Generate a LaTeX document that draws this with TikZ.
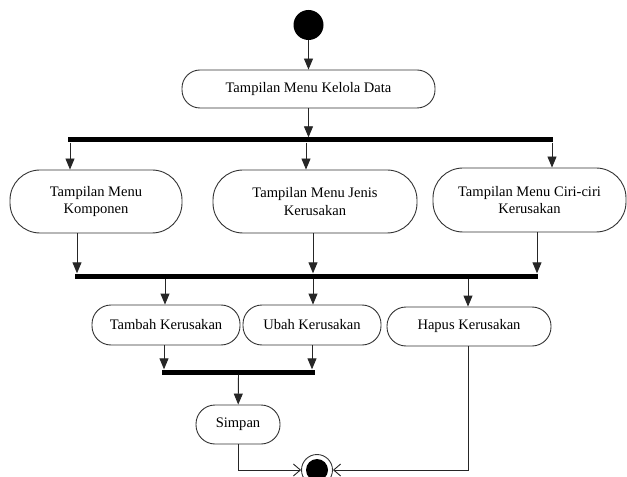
\documentclass[tikz,border=0pt]{standalone}
\usepackage{fontspec}
\setmainfont{Liberation Serif}
\usetikzlibrary{arrows.meta,calc}

\tikzset{
  act/.style={draw=black!80, line width=0.9bp, fill=white, align=center,
    inner sep=0pt, font=\fontsize{14.6}{18}\selectfont},
  bar/.style={fill=black, draw=none, inner sep=0pt, minimum height=5bp},
  flow/.style={draw=black!85, line width=0.9bp,
    -{Triangle[length=11bp,width=9bp]}},
  flowend/.style={draw=black!85, line width=0.9bp,
    -{Straight Barb[length=7bp,width=12bp,line width=0.9bp]}},
}

\begin{document}
\begin{tikzpicture}[x=1bp,y=-1bp]
  \useasboundingbox (0,0) rectangle (627,477);
  \clip (0,0) rectangle (627,477);
  \fill[white] (0,0) rectangle (627,477);

  % initial and final states
  \node[circle, fill=black, minimum size=30bp, inner sep=0pt] (start) at (308.5,25) {};
  \node[circle, draw=black!80, line width=0.9bp, minimum size=31bp, inner sep=0pt] (finish) at (317,470) {};
  \fill[black] (finish.center) circle (11bp);

  % actions
  \node[act, minimum width=253bp, minimum height=38bp, rounded corners=18bp] (kelola) at (308.5,89) {Tampilan Menu Kelola Data};
  \node[act, minimum width=172bp, minimum height=63bp, rounded corners=30bp] (komp) at (96,201.5) {Tampilan Menu\\Komponen};
  \node[act, minimum width=204bp, minimum height=63bp, rounded corners=30bp] (jenis) at (315,201.5) {Tampilan Menu Jenis\\Kerusakan};
  \node[act, minimum width=193bp, minimum height=64bp, rounded corners=30bp] (ciri) at (529.5,200) {Tampilan Menu Ciri-ciri\\Kerusakan};
  \node[act, minimum width=148bp, minimum height=40bp, rounded corners=19bp] (tambah) at (166,325) {Tambah Kerusakan};
  \node[act, minimum width=138bp, minimum height=40bp, rounded corners=19bp] (ubah) at (312,325) {Ubah Kerusakan};
  \node[act, minimum width=164bp, minimum height=39bp, rounded corners=19bp] (hapus) at (469,326.5) {Hapus Kerusakan};
  \node[act, minimum width=84bp, minimum height=39bp, rounded corners=19bp] (simpan) at (238,424.5) {Simpan};

  % fork / join bars
  \node[bar, minimum width=485bp] (bar1) at (310.5,140) {};
  \node[bar, minimum width=463bp] (bar2) at (306.5,276) {};
  \node[bar, minimum width=153bp] (bar3) at (238.5,372) {};

  % columns of the vertical connectors
  \coordinate (xa) at (70,0);
  \coordinate (xb) at (306,0);
  \coordinate (xc) at (552,0);
  \coordinate (xd) at (77,0);
  \coordinate (xe) at (313,0);
  \coordinate (xf) at (537,0);
  \coordinate (xg) at (165,0);
  \coordinate (xh) at (468,0);
  \coordinate (xi) at (164,0);
  \coordinate (xj) at (312,0);

  \draw[flow] (start) -- (kelola);
  \draw[flow] (kelola) -- (kelola |- bar1.north);

  \draw[flow] (bar1.south -| xa) -- (xa |- komp.north);
  \draw[flow] (bar1.south -| xb) -- (xb |- jenis.north);
  \draw[flow] (bar1.south -| xc) -- (xc |- ciri.north);

  \draw[flow] (komp.south -| xd) -- (xd |- bar2.north);
  \draw[flow] (jenis.south -| xe) -- (xe |- bar2.north);
  \draw[flow] (ciri.south -| xf) -- (xf |- bar2.north);

  \draw[flow] (bar2.south -| xg) -- (xg |- tambah.north);
  \draw[flow] (bar2.south -| xe) -- (xe |- ubah.north);
  \draw[flow] (bar2.south -| xh) -- (xh |- hapus.north);

  \draw[flow] (tambah.south -| xi) -- (xi |- bar3.north);
  \draw[flow] (ubah.south -| xj) -- (xj |- bar3.north);

  \draw[flow] (bar3) -- (simpan);

  \draw[flowend] (simpan.south) |- (finish.west);
  \draw[flowend] (hapus.south -| xh) |- (finish.east);
\end{tikzpicture}
\end{document}
